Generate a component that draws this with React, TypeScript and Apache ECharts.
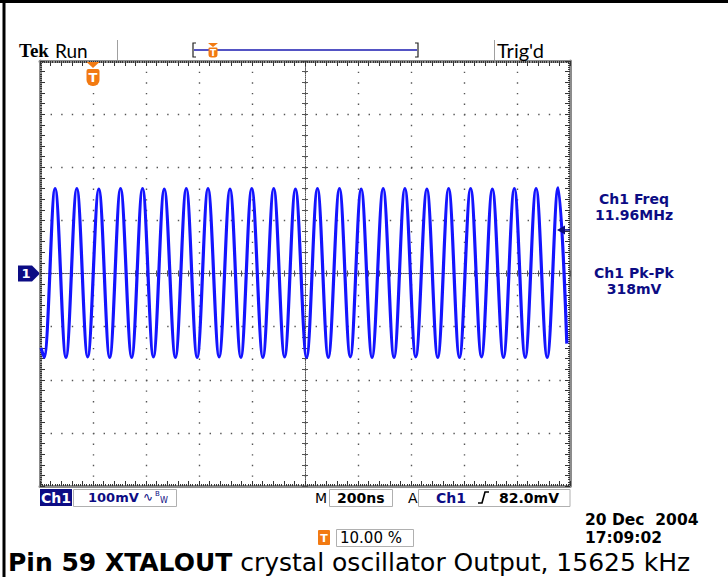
import React, { useEffect, useRef } from "react";
import * as echarts from "echarts";

// ---- axes (oscilloscope graticule: 10 x 8 divisions) ----
const TIME_MIN_NS = -200;
const TIME_MAX_NS = 1800;
const TIME_DIV_NS = 200;
const VOLT_MIN_MV = -400;
const VOLT_MAX_MV = 400;
const VOLT_DIV_MV = 100;

// ---- trace (Ch1, ns vs mV) ----
const peakTimesNs = [-143, -61, 22, 104, 187, 269, 352, 434, 517, 599, 682, 764, 847, 930, 1012, 1095, 1177, 1260, 1342, 1425, 1507, 1590, 1672, 1755];
const peakValuesMv = [160, 160, 159, 160, 160, 159, 160, 160, 159, 160, 160, 159, 160, 160, 159, 160, 160, 159, 160, 160, 159, 160, 160, 161];
const troughTimesNs = [-185, -102, -20, 63, 146, 228, 311, 393, 476, 558, 641, 723, 806, 888, 971, 1053, 1136, 1218, 1301, 1383, 1466, 1549, 1631, 1714];
const troughValuesMv = [-158, -158, -157, -158, -158, -157, -158, -158, -157, -158, -158, -157, -158, -158, -157, -158, -158, -157, -158, -158, -157, -158, -158, -158];
const traceStart = [-196, -140];
const traceEnd = [1788, -132];

// ---- trigger / readouts ----
const triggerTimeNs = 0;
const triggerLevelMv = 82;
const measurementNames = ["Ch1 Freq", "Ch1 Pk-Pk"];
const measurementValues = ["11.96MHz", "318mV"];
const channelScale = "100mV";
const timeScale = "200ns";
const triggerSource = "Ch1";
const triggerLevelText = "82.0mV";
const triggerPosText = "10.00 %";
const dateText = "20 Dec  2004";
const timeText = "17:09:02";
const captionBold = "Pin 59 XTALOUT";
const captionRest = " crystal oscillator Output, 15625 kHz";

const GRID = { left: 40, top: 61, width: 530, height: 425 };
const DOT = "#555555";
const FRAME = "#8c8c8c";
const TICK = "#333333";
const NAVY = "#0c0c84";
const ORANGE = "#f27a12";
const TRACE = "#1414ff";
const SANS = '"DejaVu Sans", sans-serif';
const HEAD_FONT = 'Lato, "Noto Sans", sans-serif';
const CAPTION_FONT = '"DejaVu Sans", sans-serif';

function buildTrace(): number[][] {
  const pts: number[][] = [traceStart, traceEnd];
  peakTimesNs.forEach((t, i) => pts.push([t, peakValuesMv[i]]));
  troughTimesNs.forEach((t, i) => pts.push([t, troughValuesMv[i]]));
  return pts.sort((a, b) => a[0] - b[0]);
}

const baseX = {
  type: "value",
  min: TIME_MIN_NS,
  max: TIME_MAX_NS,
  axisLabel: { show: false },
  splitLine: { show: false },
  axisLine: { show: false, onZero: false },
  axisTick: { show: false },
};
const baseY = {
  type: "value",
  min: VOLT_MIN_MV,
  max: VOLT_MAX_MV,
  axisLabel: { show: false },
  splitLine: { show: false },
  axisLine: { show: false, onZero: false },
  axisTick: { show: false },
};

function frameAxis(base: any, position: string, interval: number) {
  return {
    ...base,
    position,
    interval,
    axisLine: { show: true, onZero: false, lineStyle: { color: FRAME, width: 3 } },
    axisTick: { show: true, inside: true, length: 5, lineStyle: { color: TICK, width: 1 } },
    minorTick: { show: true, splitNumber: 5, length: 2, lineStyle: { color: TICK, width: 1 } },
  };
}
function centerAxis(base: any, position: string, interval: number, offset: number, withLine: boolean) {
  return {
    ...base,
    position,
    offset,
    interval,
    axisLine: { show: withLine, onZero: false, lineStyle: { color: DOT, width: 1, type: [1, 1.125] } },
    axisTick: { show: true, inside: true, length: 3, lineStyle: { color: DOT, width: 1 } },
  };
}

function txt(text: string, x: number, y: number, o: any = {}) {
  return {
    type: "text",
    x,
    y,
    z: 100,
    style: {
      text,
      fill: o.fill || "#000",
      fontSize: o.size || 14,
      fontFamily: o.family || SANS,
      fontWeight: o.weight || "normal",
      align: o.align || "left",
      verticalAlign: "middle",
      lineHeight: o.lineHeight,
      rich: o.rich,
    },
  };
}

export default function App() {
  const ref = useRef<HTMLDivElement>(null);
  useEffect(() => {
    document.body.style.margin = "0";
    if (!ref.current) return;
    const chart = echarts.init(ref.current, undefined, { renderer: "svg" });
    chart.setOption({
      animation: false,
      backgroundColor: "#ffffff",
      grid: { ...GRID },
      xAxis: [
        { ...baseX, interval: TIME_DIV_NS, splitLine: { show: true, lineStyle: { color: DOT, width: 1.4, type: [1.4, 9.225] } } },
        frameAxis(baseX, "bottom", TIME_DIV_NS / 5),
        frameAxis(baseX, "top", TIME_DIV_NS / 5),
        centerAxis(baseX, "bottom", TIME_DIV_NS / 5, -GRID.height / 2, true),
        centerAxis(baseX, "top", TIME_DIV_NS / 5, -GRID.height / 2, false),
      ],
      yAxis: [
        { ...baseY, interval: VOLT_DIV_MV, splitLine: { show: true, lineStyle: { color: DOT, width: 1.4, type: [1.4, 9.2] } } },
        frameAxis(baseY, "left", VOLT_DIV_MV / 5),
        frameAxis(baseY, "right", VOLT_DIV_MV / 5),
        centerAxis(baseY, "left", VOLT_DIV_MV / 5, -GRID.width / 2, true),
        centerAxis(baseY, "right", VOLT_DIV_MV / 5, -GRID.width / 2, false),
      ],
      series: [
        {
          type: "line",
          xAxisIndex: 0,
          yAxisIndex: 0,
          data: buildTrace(),
          smooth: 0.36,
          showSymbol: false,
          symbol: "none",
          z: 10,
          lineStyle: { color: TRACE, width: 3.2 },
        },
      ],
    });

    const [trigPx, zeroPy] = chart.convertToPixel({ seriesIndex: 0 }, [triggerTimeNs, 0]) as number[];
    const [rightPx, levelPy] = chart.convertToPixel({ seriesIndex: 0 }, [TIME_MAX_NS, triggerLevelMv]) as number[];
    const midX = 634;
    const mOpts = { size: 14, weight: "bold", fill: NAVY, align: "center", lineHeight: 15 };

    const g: any[] = [
      // page frame
      { type: "line", shape: { x1: 0, y1: 1.5, x2: 728, y2: 1.5 }, style: { stroke: "#000", lineWidth: 3 } },
      { type: "line", shape: { x1: 4, y1: 0, x2: 4, y2: 577 }, style: { stroke: "#000", lineWidth: 3 } },
      // header
      txt("Tek", 19, 50, { size: 19, weight: "bold", family: '"Liberation Serif", serif' }),
      txt("Run", 55, 50, { size: 19, family: HEAD_FONT }),
      { type: "line", shape: { x1: 117.5, y1: 40, x2: 117.5, y2: 60 }, style: { stroke: "#a0a0a0", lineWidth: 1 } },
      { type: "line", shape: { x1: 494.5, y1: 40, x2: 494.5, y2: 60 }, style: { stroke: "#a0a0a0", lineWidth: 1 } },
      { type: "polyline", shape: { points: [[196, 43], [193, 43], [193, 57], [196, 57]] }, style: { stroke: "#222", lineWidth: 1.2, fill: null } },
      { type: "polyline", shape: { points: [[415, 43], [418, 43], [418, 57], [415, 57]] }, style: { stroke: "#222", lineWidth: 1.2, fill: null } },
      { type: "line", shape: { x1: 194, y1: 50, x2: 417, y2: 50 }, style: { stroke: "#5454c4", lineWidth: 2 } },
      { type: "polygon", shape: { points: [[208, 43], [218, 43], [213, 47]] }, style: { fill: ORANGE } },
      { type: "rect", shape: { x: 208.5, y: 47.5, width: 9, height: 10, r: [1, 1, 3, 3] }, style: { fill: ORANGE } },
      txt("T", 213, 53, { size: 9, weight: "bold", fill: "#fff", align: "center" }),
      txt("Trig'd", 497, 50, { size: 20, family: HEAD_FONT }),
      // trigger position marker
      { type: "polygon", z: 50, shape: { points: [[trigPx - 6.5, 62], [trigPx + 6.5, 62], [trigPx, 68]] }, style: { fill: ORANGE } },
      { type: "rect", z: 50, shape: { x: trigPx - 6.5, y: 69, width: 13, height: 17, r: [2, 2, 6, 6] }, style: { fill: ORANGE } },
      txt("T", trigPx, 77.5, { size: 13, weight: "bold", fill: "#fff", align: "center" }),
      // channel ground marker
      { type: "polygon", shape: { points: [[18, zeroPy - 8], [32, zeroPy - 8], [40, zeroPy], [32, zeroPy + 8], [18, zeroPy + 8]] }, style: { fill: NAVY } },
      txt("1", 26, zeroPy, { size: 13, weight: "bold", fill: "#fff", align: "center" }),
      // trigger level marker
      { type: "polygon", z: 60, shape: { points: [[rightPx - 13, levelPy], [rightPx - 5, levelPy - 4.5], [rightPx - 5, levelPy + 4.5]] }, style: { fill: NAVY } },
      { type: "line", z: 60, shape: { x1: rightPx - 6, y1: levelPy, x2: rightPx, y2: levelPy }, style: { stroke: NAVY, lineWidth: 1.5 } },
      // measurements
      txt(measurementNames[0], midX, 199, mOpts),
      txt(measurementValues[0], midX, 215, mOpts),
      txt(measurementNames[1], midX, 273, mOpts),
      txt(measurementValues[1], midX, 289, mOpts),
      // status bar
      { type: "rect", shape: { x: 40, y: 489, width: 32, height: 17 }, style: { fill: NAVY } },
      txt("Ch1", 56, 497.5, { size: 14, weight: "bold", fill: "#fff", align: "center" }),
      { type: "rect", shape: { x: 73.5, y: 489.5, width: 103, height: 17 }, style: { fill: null, stroke: "#b0b0b0", lineWidth: 1 } },
      txt(channelScale, 88, 497.5, { size: 13, weight: "bold", fill: NAVY }),
      txt("\u223F", 143, 497, { size: 12, fill: NAVY }),
      txt("B", 155, 494, { size: 7, fill: NAVY }),
      txt("W", 160, 500, { size: 8, fill: NAVY }),
      txt("M", 315, 497.5, { size: 14, fill: "#000" }),
      { type: "rect", shape: { x: 329.5, y: 489.5, width: 63, height: 17 }, style: { fill: null, stroke: "#b0b0b0", lineWidth: 1 } },
      txt(timeScale, 337, 497.5, { size: 14, weight: "bold", fill: "#000" }),
      txt("A", 408, 497.5, { size: 14, fill: "#000" }),
      { type: "rect", shape: { x: 418.5, y: 489.5, width: 151.5, height: 17 }, style: { fill: null, stroke: "#b0b0b0", lineWidth: 1 } },
      txt(triggerSource, 436, 497.5, { size: 14, weight: "bold", fill: NAVY }),
      { type: "polyline", shape: { points: [[478, 503], [482, 503], [485, 492], [489, 492]] }, style: { stroke: "#000", lineWidth: 1.6, fill: null } },
      txt(triggerLevelText, 499, 497.5, { size: 14, weight: "bold", fill: "#000" }),
      // date
      txt(dateText, 585, 519.5, { size: 15.5, weight: "bold", fill: "#000", lineHeight: 16 }),
      txt(timeText, 585, 538, { size: 15.5, weight: "bold", fill: "#000", lineHeight: 16 }),
      // trigger position readout
      { type: "rect", shape: { x: 318, y: 530, width: 12, height: 15, r: 1 }, style: { fill: ORANGE } },
      txt("T", 324, 538, { size: 11, weight: "bold", fill: "#fff", align: "center" }),
      { type: "rect", shape: { x: 336.5, y: 529.5, width: 77, height: 17 }, style: { fill: null, stroke: "#b0b0b0", lineWidth: 1 } },
      txt(triggerPosText, 340, 538, { size: 15, fill: "#000", lineHeight: 16 }),
      // caption
      txt("{b|" + captionBold + "}" + captionRest, 8, 562, {
        size: 25,
        family: CAPTION_FONT,
        lineHeight: 26,
        rich: { b: { fontWeight: "bold", fontSize: 25, lineHeight: 26, fontFamily: CAPTION_FONT } },
      }),
    ];
    chart.setOption({ graphic: g });

    return () => chart.dispose();
  }, []);
  return <div ref={ref} style={{ width: 728, height: 577 }} />;
}
